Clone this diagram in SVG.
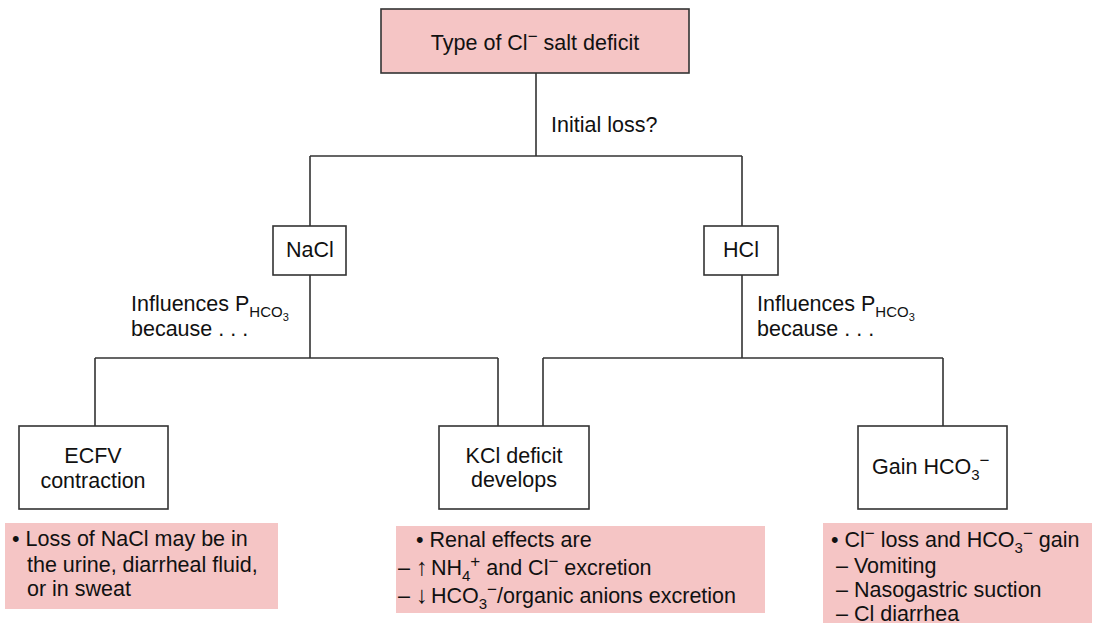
<svg xmlns="http://www.w3.org/2000/svg" width="1097" height="626" viewBox="0 0 1097 626">
<style>
text{font-family:"Liberation Sans",Arial,sans-serif;font-size:21.5px;fill:#111}
.c{text-anchor:middle}
.box{fill:#fff;stroke:#333;stroke-width:1.6}
.title{fill:#f5c5c5;stroke:#333;stroke-width:1.6}
.pink{fill:#f5c5c5}
.ln{fill:none;stroke:#333;stroke-width:1.6}
.s{font-size:15px}
.m{font-size:17px}
.ss{font-size:11px}
.ar{font-size:24px}
</style>
<rect width="1097" height="626" fill="#fff"/>
<g id="connectors">
<path class="ln" d="M536 73V156M310 156H742M310 156V226M742 156V226"/>
<path class="ln" d="M310 275V358M95 358H498M95 358V426M498 358V426"/>
<path class="ln" d="M742 275V358M543 358H943M543 358V426M943 358V426"/>
</g>
<g id="labels">
<text x="551" y="132">Initial loss?</text>
<text x="131" y="311">Influences P<tspan class="s" dy="6">HCO</tspan><tspan class="ss" dy="4">3</tspan></text>
<text x="131" y="336">because . . .</text>
<text x="757" y="311">Influences P<tspan class="s" dy="6">HCO</tspan><tspan class="ss" dy="4">3</tspan></text>
<text x="757" y="336">because . . .</text>
</g>
<g id="title">
<rect class="title" x="381" y="9" width="308" height="64"/>
<text class="c" x="535" y="50">Type of Cl<tspan class="m" dy="-8">−</tspan><tspan dy="8"> salt deficit</tspan></text>
</g>
<g id="nacl">
<rect class="box" x="273" y="226" width="73" height="49"/>
<text class="c" x="310" y="257">NaCl</text>
</g>
<g id="hcl">
<rect class="box" x="704" y="226" width="74" height="49"/>
<text class="c" x="741" y="257">HCl</text>
</g>
<g id="ecfv">
<rect class="box" x="19" y="426" width="149" height="83"/>
<text class="c" x="93" y="463">ECFV</text>
<text class="c" x="93" y="488">contraction</text>
</g>
<g id="kcl">
<rect class="box" x="439" y="426" width="150" height="83"/>
<text class="c" x="514" y="463">KCl deficit</text>
<text class="c" x="514" y="487">develops</text>
</g>
<g id="gain">
<rect class="box" x="858" y="426" width="149" height="83"/>
<text x="872" y="474">Gain HCO<tspan class="s" dy="6">3</tspan><tspan class="m" dy="-14">−</tspan></text>
</g>
<g id="note-nacl">
<rect class="pink" x="5" y="523" width="273" height="86"/>
<text x="12" y="546">• Loss of NaCl may be in</text>
<text x="27" y="572">the urine, diarrheal fluid,</text>
<text x="27" y="596">or in sweat</text>
</g>
<g id="note-kcl">
<rect class="pink" x="396" y="526" width="369" height="87"/>
<text x="416" y="547">• Renal effects are</text>
<text x="398" y="575">– <tspan class="ar">↑</tspan><tspan dx="3">NH</tspan><tspan class="s" dy="6">4</tspan><tspan class="m" dy="-14">+</tspan><tspan dy="8"> and Cl</tspan><tspan class="m" dy="-8">−</tspan><tspan dy="8"> excretion</tspan></text>
<text x="398" y="603">– <tspan class="ar">↓</tspan><tspan dx="3">HCO</tspan><tspan class="s" dy="6">3</tspan><tspan class="m" dy="-14">−</tspan><tspan dy="8">/organic anions excretion</tspan></text>
</g>
<g id="note-hcl">
<rect class="pink" x="823" y="523" width="269" height="100"/>
<text x="831" y="547">• Cl<tspan class="m" dy="-8">−</tspan><tspan dy="8"> loss and HCO</tspan><tspan class="s" dy="6">3</tspan><tspan class="m" dy="-14">−</tspan><tspan dy="8"> gain</tspan></text>
<text x="836" y="573">– Vomiting</text>
<text x="836" y="597">– Nasogastric suction</text>
<text x="836" y="621">– Cl diarrhea</text>
</g>
</svg>
